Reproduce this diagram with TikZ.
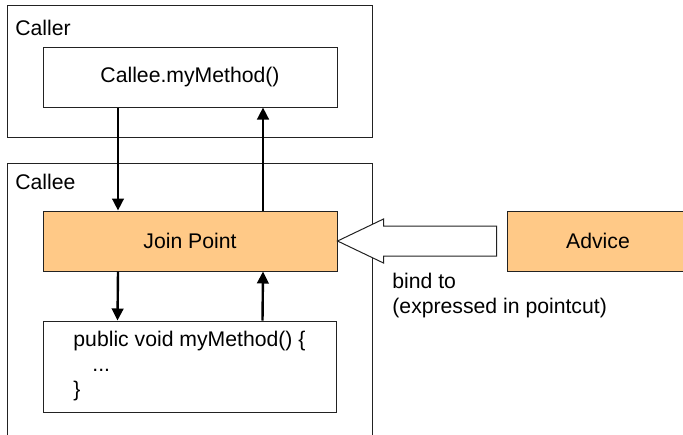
\documentclass[tikz,border=0pt]{standalone}
\usepackage{fontspec}
\setmainfont{Liberation Sans}
\usetikzlibrary{arrows.meta}

\definecolor{joinfill}{HTML}{FFC987}
\definecolor{edge}{HTML}{222222}

\begin{document}
\begin{tikzpicture}[
  x=0.5pt, y=-0.5pt,
  line cap=butt, line join=miter,
  every node/.style={font=\fontsize{10.6pt}{12.5pt}\selectfont, inner sep=0pt},
  frame/.style={draw=edge, line width=0.5pt, minimum width=182.5pt},
  box/.style={draw=edge, fill=white, line width=0.5pt, minimum width=147pt, minimum height=30pt},
  jp/.style={box, fill=joinfill},
  flow/.style={draw=black, line width=1.2pt, -{Triangle[length=6pt,width=5.8pt]}},
  hollow/.style={draw=edge, fill=white, line width=0.5pt},
]
\useasboundingbox (0,0) rectangle (683,434);
\clip (0,0) rectangle (683,434);
% caller side
\node[frame, minimum height=66pt] (caller) at (189.5,71) {};
\node[anchor=west] (callerlbl) at (15,28) {Caller};
\node[box] (call) at (190,77) {Callee.myMethod()};
% callee side
\node[frame, minimum height=150pt] (callee) at (189.5,313) {};
\node[anchor=west] (calleelbl) at (15,182) {Callee};
\node[jp] (join) at (190,241) {Join Point};
\node[box, minimum width=146.5pt, minimum height=45.5pt, align=left] (method) at (189.5,366.5)
  {public void myMethod() \{\\\hspace*{9.5pt}...\\\}};
\node[jp, minimum width=91pt] (advice) at (598,241) {Advice};
% calls
\draw[flow] ([xshift=-36pt]call.south) -- ([xshift=-36pt]join.north);
\draw[flow] ([xshift=36.5pt]join.north) -- ([xshift=36.5pt]call.south);
\draw[flow] ([xshift=-36pt]join.south) -- ([xshift=-36pt]method.north);
\draw[flow] ([xshift=36.5pt]method.north) -- ([xshift=36.5pt]join.south);
% binding
\draw[hollow] (join.east) -- ++(23pt,11pt) -- ++(0pt,-3.5pt) -- ++(56.5pt,0pt)
  -- ++(0pt,-15pt) -- ++(-56.5pt,0pt) -- ++(0pt,-3.5pt) -- cycle;
\node[anchor=west, align=left] (bind) at (392,296) {bind to\\(expressed in pointcut)};
\end{tikzpicture}
\end{document}
